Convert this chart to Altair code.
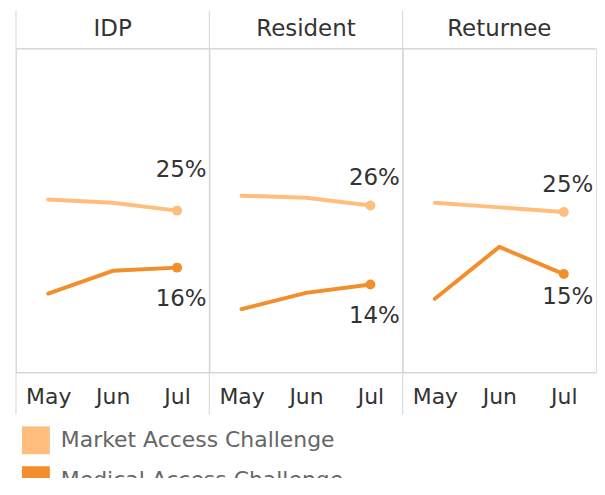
import altair as alt
import pandas as pd

groups = ["IDP", "Resident", "Returnee"]
months = ["May", "Jun", "Jul"]
series = ["Market Access Challenge", "Medical Access Challenge"]
market_idp = [0.267, 0.262, 0.250]
market_resident = [0.273, 0.270, 0.258]
market_returnee = [0.262, 0.255, 0.248]
medical_idp = [0.122, 0.157, 0.162]
medical_resident = [0.098, 0.123, 0.136]
medical_returnee = [0.114, 0.194, 0.152]
colors = ["#FFBE7D", "#F28E2B"]

market = [market_idp, market_resident, market_returnee]
medical = [medical_idp, medical_resident, medical_returnee]
rows = []
for g, mk, md in zip(groups, market, medical):
    for m, a, b in zip(months, mk, md):
        rows.append({"group": g, "month": m, "series": series[0], "value": a})
        rows.append({"group": g, "month": m, "series": series[1], "value": b})
df = pd.DataFrame(rows)

W = 194
H = 325
FONT = "DejaVu Sans"
GRID = "#d4d4d4"

x_enc = alt.X("month:N", sort=months, scale=alt.Scale(type="point", padding=0.5),
              axis=alt.Axis(title=None, labelAngle=0, labelFontSize=22, labelColor="#333",
                            labelFont=FONT, domain=False, ticks=False, grid=False,
                            labelPadding=14))
y_enc = alt.Y("value:Q", scale=alt.Scale(domain=[0, 0.5]), axis=None)
c_enc = alt.Color("series:N", sort=series, scale=alt.Scale(domain=series, range=colors),
                  legend=alt.Legend(title=None, orient="none", legendX=6, legendY=H + 54,
                                    symbolType="square", symbolSize=784, symbolStrokeWidth=0,
                                    symbolOpacity=1, padding=0,
                                    labelFontSize=22, labelColor="#666", labelFont=FONT,
                                    labelOffset=11, labelLimit=500, rowPadding=12,
                                    direction="vertical"))

base = alt.Chart().encode(x=x_enc, y=y_enc)

lines = base.mark_line(strokeWidth=4, strokeCap="round", strokeJoin="round").encode(color=c_enc)
points = base.mark_circle(size=100, opacity=1).encode(color=c_enc).transform_filter(
    "datum.month == 'Jul'")


def label(dy, cond):
    return base.mark_text(fontSize=23, font=FONT, dy=dy, dx=4, color="#333").encode(
        text=alt.Text("value:Q", format=".0%")).transform_filter(
        f"datum.month == 'Jul' && {cond}")


mk = f"datum.series == '{series[0]}'"
md = f"datum.series == '{series[1]}'"
txt1 = label(-41, f"{mk} && datum.group == 'IDP'")
txt2 = label(-27, f"{mk} && datum.group != 'IDP'")
txt3 = label(32, f"{md} && datum.group != 'Returnee'")
txt4 = label(23, f"{md} && datum.group == 'Returnee'")

one = f"datum.month == 'Jul' && {mk}"
vline = alt.Chart().mark_rule(color=GRID, strokeWidth=1).encode(
    x=alt.value(0), y=alt.value(-38), y2=alt.value(H + 42)).transform_filter(one)
htop = alt.Chart().mark_rule(color=GRID, strokeWidth=1).encode(
    x=alt.value(0), x2=alt.value(W), y=alt.value(0)).transform_filter(one)
hbot = alt.Chart().mark_rule(color=GRID, strokeWidth=1).encode(
    x=alt.value(0), x2=alt.value(W), y=alt.value(H)).transform_filter(one)

layer = alt.layer(vline, htop, hbot, lines, points, txt1, txt2, txt3, txt4).properties(
    width=W, height=H)

chart = layer.facet(
    data=df,
    column=alt.Column("group:N", sort=groups, title=None,
                      header=alt.Header(labelFontSize=23, labelColor="#333", labelFont=FONT,
                                        labelPadding=8)),
    spacing=0,
    bounds="flush",
).properties(
    padding={"left": 7, "top": 1, "right": 0, "bottom": -17}
).configure_view(stroke=None).configure(background="white")

chart.save("out.html", embed_options={"renderer": "svg", "actions": False})
